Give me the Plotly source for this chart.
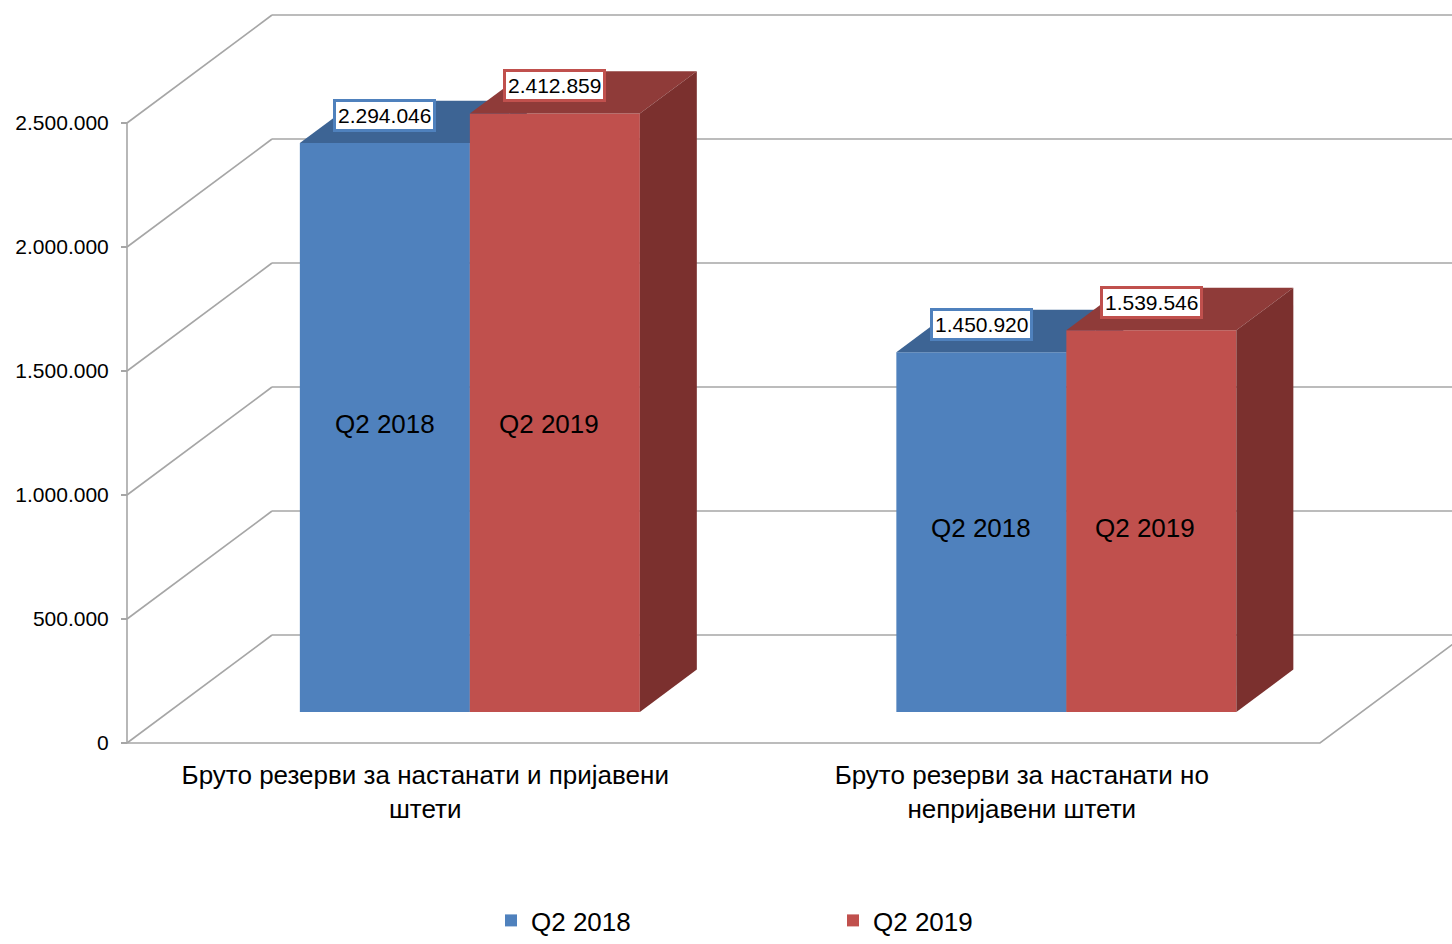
import plotly.graph_objects as go

# ---------------- data ----------------
categories = [
    "Бруто резерви за настанати и пријавени<br>штети",
    "Бруто резерви за настанати но<br>непријавени штети",
]
series_names = ["Q2 2018", "Q2 2019"]
values_q2_2018 = [2294046, 1450920]
values_q2_2019 = [2412859, 1539546]
y_tick_values = [0, 500000, 1000000, 1500000, 2000000, 2500000]

# ---------------- style ----------------
front_colors = ["#4F81BD", "#C0504D"]
top_colors = ["#3D6494", "#8F3B39"]
side_colors = ["#385D8A", "#7B302E"]
grid_color = "#A6A6A6"
FONT = "Liberation Sans, Arial, sans-serif"

# oblique projection (pixel scales of the axes)
PX_X = 596.5          # pixels per category unit
PX_Y = 248e-6         # pixels per value unit
DEPTH_DX = 145 / PX_X  # full depth of the box, x units
DEPTH_DY = 108 / PX_Y  # full depth of the box, value units
F0, F1 = 0.287, 0.68   # bar depth (front, back) as fraction of box depth
BAR_W = 0.285
GROUP_CENTER = 0.505

L_MARGIN, B_MARGIN = 117, 191
W, H = 1452, 944
x_min = -(127 - L_MARGIN) / PX_X
x_max = x_min + (W - L_MARGIN) / PX_X
y_min = -((H - B_MARGIN) - 743) / PX_Y
y_max = y_min + (H - B_MARGIN) / PX_Y

series_values = [values_q2_2018, values_q2_2019]
n_cat = len(categories)

fig = go.Figure()

# ---------------- walls / floor / axis lines (layer 1) ----------------
gx, gy = [], []
for v in y_tick_values:
    gx += [0, DEPTH_DX, None]
    gy += [v, v + DEPTH_DY, None]
    gx += [DEPTH_DX, n_cat + DEPTH_DX, None]
    gy += [v + DEPTH_DY, v + DEPTH_DY, None]
gx += [0, n_cat, n_cat + DEPTH_DX, None]
gy += [0, 0, DEPTH_DY, None]
gx += [0, 0]
gy += [0, max(y_tick_values)]
fig.add_trace(go.Scatter(x=gx, y=gy, mode="lines",
                         line=dict(color=grid_color, width=1.6),
                         showlegend=False, hoverinfo="skip",
                         xaxis="x", yaxis="y"))

# ---------------- 3D bars (layer 2 = first series, layer 3 = second) ----------------
annotations = []
for s, (name, vals) in enumerate(zip(series_names, series_values)):
    xa, ya = f"x{s + 2}", f"y{s + 2}"
    centers = [c + GROUP_CENTER + (s - 0.5) * BAR_W + F0 * DEPTH_DX for c in range(n_cat)]
    fig.add_trace(go.Bar(
        x=centers, y=vals, base=[F0 * DEPTH_DY] * n_cat, width=BAR_W,
        name=name, marker=dict(color=front_colors[s], line=dict(width=0)),
        hoverinfo="skip", xaxis=xa, yaxis=ya))
    ddx = (F1 - F0) * DEPTH_DX
    ddy = (F1 - F0) * DEPTH_DY
    for c, (xc, v) in enumerate(zip(centers, vals)):
        xl, xr = xc - BAR_W / 2, xc + BAR_W / 2
        yb, yt = F0 * DEPTH_DY, F0 * DEPTH_DY + v
        fig.add_trace(go.Scatter(
            x=[xl, xr, xr + ddx, xl + ddx, xl], y=[yt, yt, yt + ddy, yt + ddy, yt],
            mode="lines", fill="toself", fillcolor=top_colors[s],
            line=dict(width=0, color=top_colors[s]), showlegend=False,
            hoverinfo="skip", xaxis=xa, yaxis=ya))
        fig.add_trace(go.Scatter(
            x=[xr, xr + ddx, xr + ddx, xr, xr], y=[yb, yb + ddy, yt + ddy, yt, yb],
            mode="lines", fill="toself", fillcolor=side_colors[s],
            line=dict(width=0, color=side_colors[s]), showlegend=False,
            hoverinfo="skip", xaxis=xa, yaxis=ya))
        # value label above the bar
        annotations.append(dict(
            x=xc, y=yt, xref="x", yref="y", yshift=28, showarrow=False,
            text=f"{v:,}".replace(",", "."),
            font=dict(size=21, color="black", family=FONT),
            bgcolor="white", bordercolor=front_colors[s], borderwidth=3, borderpad=2))
        # series-name label inside the bar (at mid-height of the group's lower bar)
        group_low = min(sv[c] for sv in series_values)
        annotations.append(dict(
            x=xc, y=yb + group_low / 2, xref="x", yref="y", yshift=4,
            xshift=-6 * s, showarrow=False, text=name,
            font=dict(size=26, color="black", family=FONT)))

hidden = dict(visible=False, showgrid=False, zeroline=False)
fig.update_layout(
    width=W, height=H,
    margin=dict(l=L_MARGIN, r=0, t=0, b=B_MARGIN),
    paper_bgcolor="white", plot_bgcolor="white",
    font=dict(family=FONT, color="black"),
    separators=",.",
    barmode="overlay",
    showlegend=True,
    xaxis=dict(range=[x_min, x_max], tickmode="array",
               tickvals=[c + 0.5 for c in range(n_cat)], ticktext=categories,
               ticks="", showgrid=False, zeroline=False, showline=False,
               tickfont=dict(size=26, family=FONT, color="black"),
               ticklabelstandoff=4),
    yaxis=dict(range=[y_min, y_max], tickmode="array", tickvals=y_tick_values,
               anchor="free", position=(127 - L_MARGIN) / (W - L_MARGIN),
               tickformat=",d", ticks="outside", ticklen=6, tickwidth=1.6,
               tickcolor=grid_color, showgrid=False, zeroline=False, showline=False,
               ticklabelstandoff=8,
               tickfont=dict(size=21, family=FONT, color="black")),
    xaxis2=dict(range=[x_min, x_max], overlaying="x", anchor="y2", **hidden),
    yaxis2=dict(range=[y_min, y_max], overlaying="y", anchor="x2", **hidden),
    xaxis3=dict(range=[x_min, x_max], overlaying="x", anchor="y3", **hidden),
    yaxis3=dict(range=[y_min, y_max], overlaying="y", anchor="x3", **hidden),
    legend=dict(orientation="h", x=(491 - L_MARGIN) / (W - L_MARGIN), xanchor="left",
                xref="paper", yref="container", y=0, yanchor="bottom",
                entrywidth=297, entrywidthmode="pixels",
                font=dict(size=26, family=FONT, color="black"),
                bgcolor="rgba(0,0,0,0)"),
    annotations=annotations,
)

fig.write_html("out.html")
